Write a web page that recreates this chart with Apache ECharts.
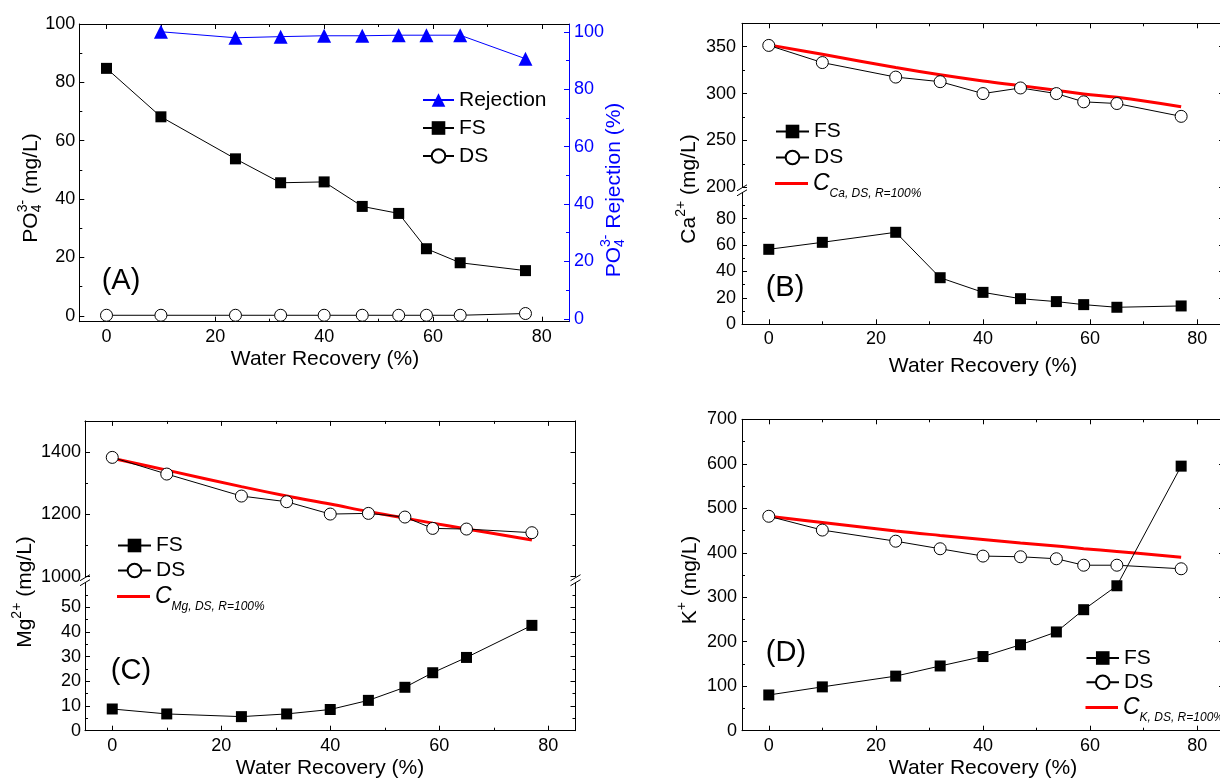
<!DOCTYPE html>
<html><head><meta charset="utf-8">
<script src="https://cdn.jsdelivr.net/npm/echarts@6/dist/echarts.min.js"></script>
<style>html,body{margin:0;padding:0;background:#fff}#c{width:1220px;height:781px}</style>
</head><body><div id="c"></div>
<script>
// ---------------- DATA ----------------
const recovery = [0, 10, 23.7, 32, 40, 47, 53.7, 58.8, 65, 77];
const rejRecovery = [10, 23.7, 32, 40, 47, 53.7, 58.8, 65, 77];
// (A) phosphate
const poFS = [84.8, 68.2, 53.8, 45.6, 45.9, 37.5, 35.1, 23.0, 18.2, 15.5];
const poDS = [0.2, 0.2, 0.2, 0.2, 0.2, 0.2, 0.2, 0.2, 0.2, 0.8];
const poRejection = [100.0, 97.9, 98.3, 98.6, 98.6, 98.8, 98.8, 98.8, 90.6];
// (B) calcium
const caFS = [56.8, 62.1, 69.7, 35.3, 24.2, 19.4, 17.2, 14.9, 12.9, 13.9];
const caDS = [351.4, 333.1, 317.6, 312.7, 300, 306, 300, 291.2, 289.4, 275.7];
const caCalc = [352, 341.9, 327.8, 320, 313.4, 308.5, 303.5, 299.6, 296, 286];
// (C) magnesium
const mgFS = [8.8, 6.8, 5.7, 6.8, 8.6, 12.3, 17.6, 23.5, 29.7, 42.7];
const mgDS = [1382.9, 1329.4, 1258.8, 1240.6, 1201, 1203.2, 1191.4, 1155, 1152.9, 1141.2];
const mgCalc = [1380, 1342, 1289, 1259, 1233, 1209, 1188, 1172, 1153, 1118];
// (D) potassium
const kFS = [80.3, 98.5, 122.7, 145.5, 166.7, 193.2, 222, 272, 325.8, 594.7];
const kDS = [482, 451, 426, 409, 392.5, 391, 386.5, 372, 372, 364];
const kCalc = [482, 468, 449, 439, 430, 422, 415, 409, 403, 390];
// tick values
const xMajor = [0, 20, 40, 60, 80];
const xMinor = [10, 30, 50, 70];
const aMajor = [0, 20, 40, 60, 80, 100];
const aMinor = [10, 30, 50, 70, 90];
const bUpMajor = [200, 250, 300, 350];
const bUpMinor = [225, 275, 325];
const bLoMajor = [0, 20, 40, 60, 80];
const bLoMinor = [10, 30, 50, 70, 90];
const cUpMajor = [1000, 1200, 1400];
const cUpMinor = [1100, 1300, 1500];
const cLoMajor = [0, 10, 20, 30, 40, 50];
const cLoMinor = [5, 15, 25, 35, 45, 55];
const dMajor = [0, 100, 200, 300, 400, 500, 600, 700];
const dMinor = [50, 150, 250, 350, 450, 550, 650];

// ---------------- LAYOUT ----------------
const FONT = "'Liberation Sans', Arial, Helvetica, sans-serif";
const BLUE = '#0000ff';
const G = {
  A:  {left: 79.3, top: 24, width: 489.7, height: 297.7},
  Bu: {left: 742, top: 23.3, width: 482, height: 164},
  Bl: {left: 742, top: 192.3, width: 482, height: 132},
  Cu: {left: 85, top: 420.9, width: 490.5, height: 155.8},
  Cl: {left: 85, top: 582.7, width: 490.5, height: 148},
  D:  {left: 742, top: 419.3, width: 482, height: 311.4}
};
const grids = [G.A, G.Bu, G.Bl, G.Cu, G.Cl, G.D].map(g => Object.assign({containLabel: false, outerBoundsMode: 'none'}, g));

const xAxis = [], yAxis = [];
function axis(list, gridIndex, position, min, max, major, minor, o) {
  o = o || {};
  const color = o.color || '#000';
  const base = {type: 'value', gridIndex, position, min, max, splitLine: {show: false}, silent: true};
  list.push(Object.assign({}, base, {
    axisLine: {show: o.line !== false, onZero: false, lineStyle: {color, width: 1}},
    axisTick: {show: true, inside: true, length: 5, customValues: major, lineStyle: {color, width: 1}},
    axisLabel: {show: !!o.labels, customValues: major, formatter: v => String(v),
      margin: o.margin == null ? 5 : o.margin, color, fontSize: 18, fontFamily: FONT}
  }));
  const idx = list.length - 1;
  if (minor) list.push(Object.assign({}, base, {
    axisLine: {show: false, onZero: false},
    axisTick: {show: true, inside: true, length: 3, customValues: minor, lineStyle: {color, width: 1}},
    axisLabel: {show: false}
  }));
  return idx;
}
// Panel A (grid 0)
const axA = axis(xAxis, 0, 'bottom', -5, 85, xMajor, xMinor, {labels: true, margin: 6});
axis(xAxis, 0, 'top', -5, 85, xMajor, xMinor);
const ayA = axis(yAxis, 0, 'left', -2, 100, aMajor, aMinor, {labels: true, margin: 4});
const ayA2 = axis(yAxis, 0, 'right', -1, 102.7, aMajor, aMinor, {labels: true, margin: 5, color: BLUE});
// Panel B upper (grid 1)
const axBu = axis(xAxis, 1, 'top', -5, 85, xMajor, xMinor);
const ayBu = axis(yAxis, 1, 'left', 200, 375, bUpMajor, bUpMinor, {labels: true, margin: 6});
axis(yAxis, 1, 'right', 200, 375, bUpMajor, bUpMinor);
// Panel B lower (grid 2)
const axBl = axis(xAxis, 2, 'bottom', -5, 85, xMajor, xMinor, {labels: true, margin: 6});
const ayBl = axis(yAxis, 2, 'left', 0, 100, bLoMajor, bLoMinor, {labels: true, margin: 6});
axis(yAxis, 2, 'right', 0, 100, bLoMajor, bLoMinor);
// Panel C upper (grid 3)
const axCu = axis(xAxis, 3, 'top', -5, 85, xMajor, xMinor);
const ayCu = axis(yAxis, 3, 'left', 1000, 1500, cUpMajor, cUpMinor, {labels: true, margin: 4});
axis(yAxis, 3, 'right', 1000, 1500, cUpMajor, cUpMinor);
// Panel C lower (grid 4)
const axCl = axis(xAxis, 4, 'bottom', -5, 85, xMajor, xMinor, {labels: true, margin: 6});
const ayCl = axis(yAxis, 4, 'left', 0, 60, cLoMajor, cLoMinor, {labels: true, margin: 4});
axis(yAxis, 4, 'right', 0, 60, cLoMajor, cLoMinor);
// Panel D (grid 5)
const axD = axis(xAxis, 5, 'bottom', -5, 85, xMajor, xMinor, {labels: true, margin: 6});
axis(xAxis, 5, 'top', -5, 85, xMajor, xMinor);
const ayD = axis(yAxis, 5, 'left', 0, 700, dMajor, dMinor, {labels: true, margin: 5});
axis(yAxis, 5, 'right', 0, 700, dMajor, dMinor);

const pairs = (xs, ys) => xs.map((x, i) => [x, ys[i]]);
function fs(xi, yi, ys) {
  return {type: 'line', name: 'FS', xAxisIndex: xi, yAxisIndex: yi, data: pairs(recovery, ys),
    symbol: 'rect', symbolSize: 11, lineStyle: {color: '#000', width: 1}, itemStyle: {color: '#000'}, z: 4};
}
function ds(xi, yi, ys) {
  return {type: 'line', name: 'DS', xAxisIndex: xi, yAxisIndex: yi, data: pairs(recovery, ys),
    symbol: 'circle', symbolSize: 12, showAllSymbol: true, lineStyle: {color: '#000', width: 1},
    itemStyle: {color: '#fff', borderColor: '#000', borderWidth: 1}, z: 3};
}
function calc(name, xi, yi, ys) {
  return {type: 'line', name, xAxisIndex: xi, yAxisIndex: yi, data: pairs(recovery, ys), smooth: 0.4,
    symbol: 'none', lineStyle: {color: '#ff0000', width: 3}, itemStyle: {color: '#ff0000'}, z: 2};
}
const series = [
  {type: 'line', name: 'Rejection', xAxisIndex: axA, yAxisIndex: ayA2, data: pairs(rejRecovery, poRejection),
    symbol: 'triangle', symbolSize: 14, lineStyle: {color: BLUE, width: 1}, itemStyle: {color: BLUE}, z: 4},
  fs(axA, ayA, poFS), ds(axA, ayA, poDS),
  calc('CCa', axBu, ayBu, caCalc), fs(axBl, ayBl, caFS), ds(axBu, ayBu, caDS),
  calc('CMg', axCu, ayCu, mgCalc), fs(axCl, ayCl, mgFS), ds(axCu, ayCu, mgDS),
  calc('CK', axD, ayD, kCalc), fs(axD, ayD, kFS), ds(axD, ayD, kDS)
];

// ---------------- LEGENDS ----------------
const legBase = {orient: 'vertical', padding: 0, itemHeight: 17, selectedMode: false,
  textStyle: {fontSize: 21, fontFamily: FONT, color: '#000'}};
function calcLegend(name, sub, left, top, w) {
  return Object.assign({}, legBase, {left, top, itemWidth: w, itemHeight: 3,
    data: [{name, icon: 'rect', itemStyle: {color: '#ff0000', borderWidth: 0}}],
    formatter: () => '{c|C}{s|' + sub + '}',
    textStyle: {fontSize: 21, fontFamily: FONT, color: '#000', rich: {
      c: {fontStyle: 'italic', fontSize: 23, fontFamily: FONT, color: '#000'},
      s: {fontStyle: 'italic', fontSize: 12, fontFamily: FONT, color: '#000', padding: [20, 0, 0, 0]}
    }}});
}
const legend = [
  Object.assign({}, legBase, {left: 422, top: 89.5, itemWidth: 31, itemGap: 7, data: ['Rejection', 'FS', 'DS']}),
  Object.assign({}, legBase, {left: 775, top: 121, itemWidth: 33, itemGap: 5, data: ['FS', 'DS']}),
  calcLegend('CCa', 'Ca, DS, R=100%', 775, 172, 33),
  Object.assign({}, legBase, {left: 117, top: 535, itemWidth: 33, itemGap: 4, data: ['FS', 'DS']}),
  calcLegend('CMg', 'Mg, DS, R=100%', 117, 585, 33),
  Object.assign({}, legBase, {left: 1085.5, top: 647.5, itemWidth: 32.5, itemGap: 3.3, data: ['FS', 'DS']}),
  calcLegend('CK', 'K, DS, R=100%', 1085.5, 696, 32.5)
];

// ---------------- TEXT / DECORATION ----------------
const mctx = document.createElement('canvas').getContext('2d');
function tw(t, s) { mctx.font = s + 'px ' + FONT; return mctx.measureText(t).width; }
function txt(t, x, y, s, color, extra) {
  return Object.assign({type: 'text', x, y, silent: true, style: {text: t, fontSize: s, fontFamily: FONT, fill: color || '#000',
    align: 'center', verticalAlign: 'middle', textAlign: 'center', textVerticalAlign: 'middle'}}, extra || {});
}
function vTitle(cx, cy, parts, color) {
  let x = 0; const kids = [];
  parts.forEach(p => {
    kids.push({type: 'text', x, y: p.dy || 0, silent: true, style: {text: p.t, fontSize: p.s, fontFamily: FONT, fill: color,
      align: 'left', verticalAlign: 'middle', textAlign: 'left', textVerticalAlign: 'middle'}});
    x += (p.adv != null ? p.adv : tw(p.t, p.s));
  });
  kids.forEach(k => { k.x -= x / 2; });
  return {type: 'group', x: cx, y: cy, rotation: Math.PI / 2, children: kids};
}
function ionTitle(cx, cy, base, sub, sup, rest, color) {
  const parts = [{t: base, s: 21}];
  if (sub) parts.push({t: sub, s: 14, dy: 6, adv: 0});
  parts.push({t: sup, s: 14, dy: -8, adv: Math.max(tw(sup, 14), sub ? tw(sub, 14) : 0)});
  parts.push({t: rest, s: 21});
  return vTitle(cx, cy, parts, color || '#000');
}
function brk(x, y) {
  const ln = (x1, y1, x2, y2) => ({type: 'line', silent: true, shape: {x1, y1, x2, y2}, style: {stroke: '#000', lineWidth: 1}});
  return [ln(x - 5, y + 1, x + 5, y - 5), ln(x - 5, y + 6, x + 5, y)];
}
const graphic = [
  txt('Water Recovery (%)', 325, 359, 21),
  txt('Water Recovery (%)', 983, 366, 21),
  txt('Water Recovery (%)', 330, 768, 21),
  txt('Water Recovery (%)', 983, 768, 21),
  ionTitle(31, 188, 'PO', '4', '3-', ' (mg/L)'),
  ionTitle(614, 190, 'PO', '4', '3-', ' Rejection (%)', BLUE),
  ionTitle(689, 189, 'Ca', null, '2+', ' (mg/L)'),
  ionTitle(25, 592, 'Mg', null, '2+', ' (mg/L)'),
  ionTitle(690, 580, 'K', null, '+', ' (mg/L)'),
  txt('(A)', 121, 281, 29),
  txt('(B)', 785, 288, 29),
  txt('(C)', 131, 671, 29),
  txt('(D)', 786, 653, 29),
  ...brk(G.Bu.left, G.Bu.top + G.Bu.height + 2.5),
  ...brk(G.Cu.left, G.Cu.top + G.Cu.height + 3),
  ...brk(G.Cu.left + G.Cu.width, G.Cu.top + G.Cu.height + 3)
];

const chart = echarts.init(document.getElementById('c'), null, {renderer: 'canvas'});
chart.setOption({animation: false, backgroundColor: '#fff', grid: grids, xAxis, yAxis, series, legend, graphic});
</script></body></html>
